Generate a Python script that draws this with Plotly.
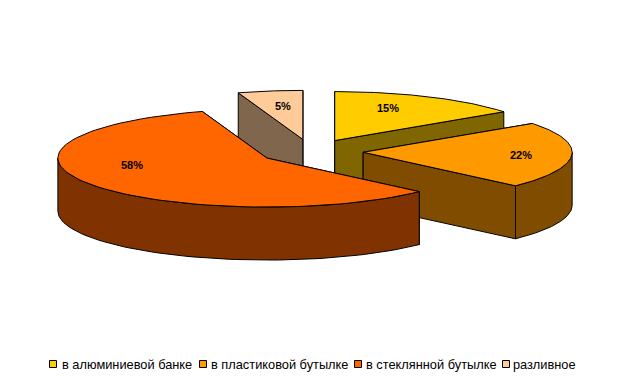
import numpy as np
import plotly.graph_objects as go

categories = ["в алюминиевой банке", "в пластиковой бутылке", "в стеклянной бутылке", "разливное"]
values = [15, 22, 58, 5]
top_colors = ["#FFCC00", "#FF9900", "#FF6600", "#FFCC99"]
side_colors = ["#806600", "#804D00", "#803300", "#80664D"]
label_pos = [(388, 108), (521, 155), (132, 165), (283, 106)]
legend_swatch_x = [53, 203, 358, 506]
legend_text_x = [62, 211, 366, 513]
LEGEND_Y = 364

# The page body has an 8 px margin, so the figure covers page pixels 8..617 / 8..373
PAGE_W, PAGE_H = 625, 381
PAD = 8
CX, CY = 311, 151.5      # pie centre in page pixels
A, B = 209, 49           # projected ellipse radii
DEPTH = 53
EXPLODE = 0.25
OUTLINE = "#000000"


def rim(t):
    t = np.radians(t)
    return A * np.sin(t), -B * np.cos(t)


def poly(xs, ys, color):
    return go.Scatter(
        x=list(xs) + [xs[0]], y=list(ys) + [ys[0]], mode="lines", fill="toself",
        fillcolor=color, line=dict(color=OUTLINE, width=1),
        hoverinfo="skip", showlegend=False,
    )


fig = go.Figure()
total = sum(values)
cum = np.cumsum([0] + values) / total * 360
order = [3, 0, 1, 2]  # back to front

for i in order:
    t0, t1 = cum[i], cum[i + 1]
    mx, my = rim((t0 + t1) / 2)
    ax, ay = CX + EXPLODE * mx, CY + EXPLODE * my
    ts = np.linspace(t0, t1, 80)
    ex, ey = rim(ts)
    ex, ey = ax + ex, ay + ey

    # flat cut faces, the farther one first
    faces = sorted([(ex[0], ey[0]), (ex[-1], ey[-1])], key=lambda p: p[1])
    for px, py in faces:
        fig.add_trace(poly([ax, px, px, ax], [ay, py, py + DEPTH, ay + DEPTH], side_colors[i]))

    # curved outer wall: only the front half of the rim shows
    lo, hi = max(t0, 90), min(t1, 270)
    if hi > lo:
        ws = np.linspace(lo, hi, 80)
        wx, wy = rim(ws)
        wx, wy = ax + wx, ay + wy
        fig.add_trace(poly(np.r_[wx, wx[::-1]], np.r_[wy, wy[::-1] + DEPTH], side_colors[i]))

    # top face
    fig.add_trace(poly(np.r_[ax, ex], np.r_[ay, ey], top_colors[i]))

for i, (name, color) in enumerate(zip(categories, top_colors)):
    fig.add_trace(go.Scatter(
        x=[legend_swatch_x[i]], y=[LEGEND_Y], mode="markers", name=name, hoverinfo="name",
        showlegend=False,
        marker=dict(symbol="square", size=7, color=color, line=dict(color=OUTLINE, width=1)),
    ))
    fig.add_annotation(
        x=legend_text_x[i], y=LEGEND_Y, xref="x", yref="y", text=name, showarrow=False,
        xanchor="left", xshift=-2, font=dict(family="Liberation Sans", size=12.8, color="#000000"),
    )
    lx, ly = label_pos[i]
    fig.add_annotation(
        x=lx, y=ly, xref="x", yref="y", text=f"<b>{values[i]}%</b>", showarrow=False,
        font=dict(family="Liberation Sans", size=11, color="#000000"),
    )

fig.update_layout(
    width=PAGE_W - 2 * PAD, height=PAGE_H - 2 * PAD, margin=dict(l=0, r=0, t=0, b=0), autosize=False,
    paper_bgcolor="#FFFFFF", plot_bgcolor="#FFFFFF",
    xaxis=dict(range=[PAD, PAGE_W - PAD], visible=False, fixedrange=True),
    yaxis=dict(range=[PAGE_H - PAD, PAD], visible=False, fixedrange=True),
    showlegend=False,
)
fig.write_html("out.html")
